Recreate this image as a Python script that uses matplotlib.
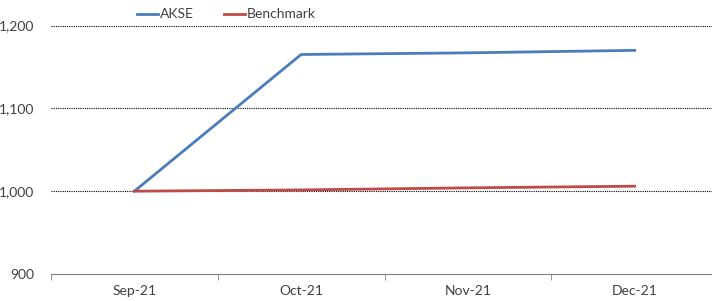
import numpy as np
import matplotlib.pyplot as plt

# data
months = ['Sep-21', 'Oct-21', 'Nov-21', 'Dec-21']
akse = [1000, 1165, 1167, 1170]
benchmark = [1000, 1001.5, 1004, 1006]
y_ticks = [900, 1000, 1100, 1200]

plt.rcParams['font.family'] = ['Lato', 'DejaVu Sans']

fig = plt.figure(figsize=(7.12, 3.01), dpi=100)
ax = fig.add_axes([51 / 712, 27 / 301, 667 / 712, 248.5 / 301])

x = np.arange(len(months))
ax.plot(x, akse, color='#4a7ebb', lw=2, label='AKSE')
ax.plot(x, benchmark, color='#be4b48', lw=2, label='Benchmark')

ax.set_xlim(-0.5, len(months) - 0.5)
ax.set_ylim(900, 1200)

# dotted gridlines (no line at the bottom)
for v in y_ticks[1:]:
    ax.axhline(v, color='black', lw=0.8, ls=(0, (1, 1)), zorder=0)

ax.set_yticks(y_ticks)
ax.set_yticklabels([f"{v:,}" for v in y_ticks])
ax.set_xticks(x)
ax.set_xticklabels(months)
ax.set_xticks(np.arange(-0.5, len(months)), minor=True)
ax.tick_params(axis='x', which='major', length=0, pad=8)
ax.tick_params(axis='x', which='minor', length=4, color='#808080', direction='out')
ax.tick_params(axis='y', length=0, pad=12)
ax.tick_params(labelsize=10, labelcolor='#404040')

for s in ['top', 'right', 'left']:
    ax.spines[s].set_visible(False)
ax.spines['bottom'].set_color('#808080')

fig.legend(loc='center', bbox_to_anchor=(0.318, 0.952), ncol=2, frameon=False,
           fontsize=10, handlelength=1.5, handletextpad=0.1, columnspacing=2.2,
           labelcolor='#404040')

fig.savefig('out.png', dpi=100)
